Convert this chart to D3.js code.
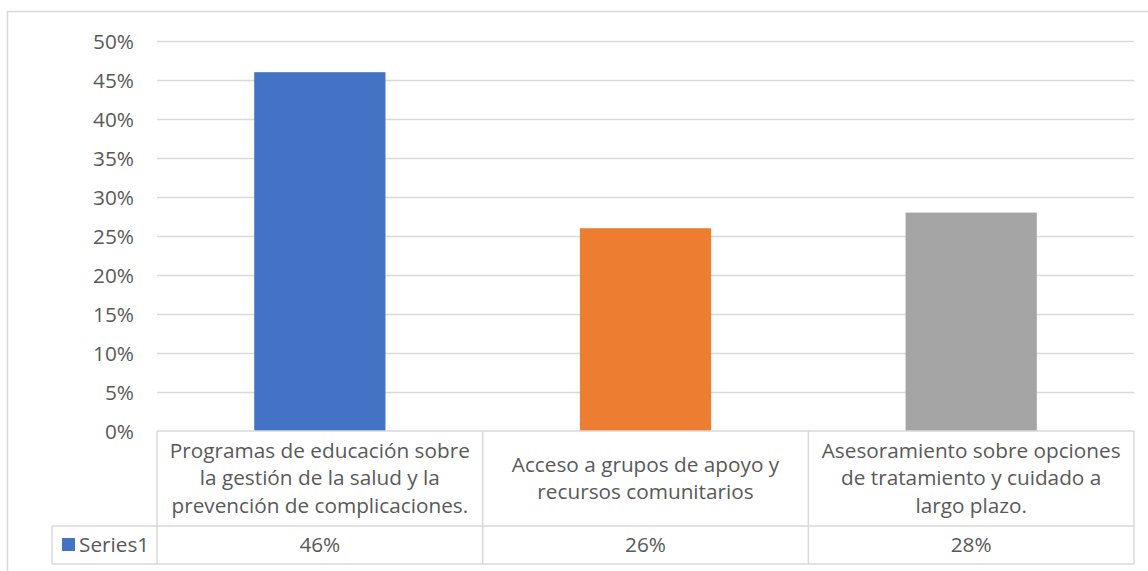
<!DOCTYPE html>
<html><head><meta charset="utf-8">
<script src="https://cdn.jsdelivr.net/npm/d3@7"></script>
<style>body{margin:0;background:#fff}svg{display:block}</style>
</head><body>
<svg id="c" width="1148" height="571"></svg>
<script>
const categories = [
  ["Programas de educación sobre","la gestión de la salud y la","prevención de complicaciones."],
  ["Acceso a grupos de apoyo y","recursos comunitarios"],
  ["Asesoramiento sobre opciones","de tratamiento y cuidado a","largo plazo."]
];
const seriesName = "Series1";
const values = [0.46, 0.26, 0.28];
const valueLabels = ["46%", "26%", "28%"];
const colors = ["#4472C4", "#ED7D31", "#A5A5A5"];
const yTicks = [0,0.05,0.10,0.15,0.20,0.25,0.30,0.35,0.40,0.45,0.50];

(function(){
const svg = d3.select("#c");
const font = "'Open Sans', sans-serif";
const fs = 20.75;
const textColor = "#595959";
const gridColor = "#d9d9d9";

// chart border
svg.append("rect").attr("x",7.5).attr("y",11.5).attr("width",1160).attr("height",600)
  .attr("fill","none").attr("stroke",gridColor).attr("stroke-width",1.5);

const pLeft = 157, pRight = 1134, pTop = 41, pBottom = 431;
const x = d3.scaleBand().domain(d3.range(categories.length)).range([pLeft,pRight]).paddingInner(0).paddingOuter(0);
const y = d3.scaleLinear().domain([0,0.5]).range([pBottom,pTop]);

const yAxis = d3.axisLeft(y).tickValues(yTicks).tickFormat(d3.format(".0%")).tickSize(0).tickPadding(0);
const gy = svg.append("g").attr("transform",`translate(134,0)`).call(yAxis);
gy.select(".domain").remove();
gy.selectAll("text").attr("font-family",font).attr("font-size",fs).attr("fill",textColor).attr("dy","0.35em");

// gridlines
svg.append("g").selectAll("line").data(yTicks.filter(d=>d>0)).join("line")
  .attr("x1",pLeft).attr("x2",pRight).attr("y1",d=>Math.round(y(d))+0.5).attr("y2",d=>Math.round(y(d))+0.5)
  .attr("stroke",gridColor).attr("stroke-width",1.5);

// bars
const bw = x.bandwidth()*0.403;
svg.append("g").selectAll("rect").data(values).join("rect")
  .attr("x",(d,i)=>x(i)+x.bandwidth()/2-bw/2).attr("width",bw)
  .attr("y",d=>y(d)).attr("height",d=>y(0)-y(d))
  .attr("fill",(d,i)=>colors[i]);

// data table
const rowSplit = 526, tableBottom = 564, legendLeft = 52;
const tg = svg.append("g").attr("stroke",gridColor).attr("stroke-width",1.5).attr("fill","none");
tg.append("line").attr("x1",pLeft).attr("x2",pRight).attr("y1",pBottom).attr("y2",pBottom);
tg.append("line").attr("x1",legendLeft).attr("x2",pRight).attr("y1",rowSplit).attr("y2",rowSplit);
tg.append("line").attr("x1",legendLeft).attr("x2",pRight).attr("y1",tableBottom).attr("y2",tableBottom);
tg.append("line").attr("x1",legendLeft).attr("x2",legendLeft).attr("y1",rowSplit).attr("y2",tableBottom);
const vx = [pLeft, ...categories.map((c,i)=>x(i)+x.bandwidth())];
tg.selectAll(".v").data(vx).join("line").attr("class","v")
  .attr("x1",d=>d).attr("x2",d=>d).attr("y1",pBottom).attr("y2",tableBottom);

// category labels
const lh = 27.5;
categories.forEach((lines,i)=>{
  const cx = x(i)+x.bandwidth()/2;
  const cy = (pBottom+rowSplit)/2 - 0.5;
  const y0 = cy - (lines.length-1)*lh/2;
  const t = svg.append("text").attr("font-family",font).attr("font-size",fs).attr("fill",textColor)
    .attr("text-anchor","middle");
  lines.forEach((l,k)=>t.append("tspan").attr("x",cx).attr("y",y0+k*lh).attr("dy","0.35em").text(l));
});

// values row
const vy = (rowSplit+tableBottom)/2;
svg.append("g").selectAll("text").data(valueLabels).join("text")
  .attr("x",(d,i)=>x(i)+x.bandwidth()/2).attr("y",vy-0.5).attr("dy","0.35em")
  .attr("text-anchor","middle").attr("font-family",font).attr("font-size",fs).attr("fill",textColor)
  .text(d=>d);

// legend key
svg.append("rect").attr("x",62).attr("y",vy-7).attr("width",13).attr("height",13).attr("fill",colors[0]);
svg.append("text").attr("x",79).attr("y",vy-0.5).attr("dy","0.35em").attr("font-family",font).attr("font-size",fs)
  .attr("fill",textColor).text(seriesName);
})();
</script>
</body></html>
